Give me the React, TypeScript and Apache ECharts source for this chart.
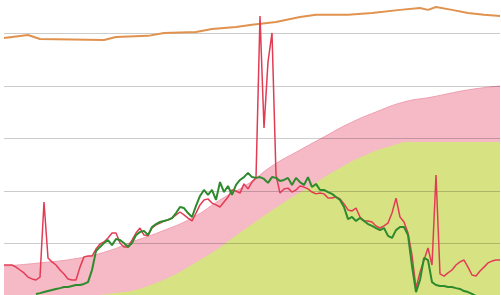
import React, { useEffect, useRef } from "react";
import * as echarts from "echarts";

// sample index t = 0..124
const redLine: number[] = [
  11.8, 11.8, 11.8, 11.0, 9.9, 8.8, 7.2, 6.5, 6.1, 7.2,
  35.8, 14.5, 13.0, 11.8, 9.9, 8.4, 6.5, 6.1, 6.1, 11.0,
  14.9, 15.2, 15.2, 17.9, 19.8, 20.6, 22.1, 24.0, 24.0, 20.2,
  18.7, 18.7, 21.3, 24.0, 25.9, 23.2, 22.9, 25.9, 27.1, 27.8,
  28.6, 29.0, 29.7, 30.9, 32.0, 30.9, 29.7, 28.6, 31.6, 34.7,
  36.6, 37.0, 35.4, 34.7, 33.9, 35.8, 37.7, 40.4, 40.0, 39.2,
  42.7, 40.8, 43.4, 45.0, 106.7, 64.0, 89.2, 100.2, 46.1, 39.2,
  40.8, 41.1, 39.6, 40.4, 41.9, 41.5, 40.8, 39.6, 38.9, 39.2,
  38.9, 37.3, 37.3, 37.7, 37.0, 35.1, 32.8, 32.4, 33.5, 30.1,
  28.6, 28.6, 28.2, 26.7, 25.9, 26.7, 27.8, 31.6, 37.3, 30.1,
  28.2, 24.0, 15.6, 3.0, 9.1, 13.7, 18.3, 11.8, 46.1, 8.4,
  7.6, 8.8, 9.9, 11.8, 13.0, 13.7, 11.0, 8.0, 7.6, 9.5,
  11.0, 12.6, 13.3, 13.7, 13.7,
];

const greenLine: (number | null)[] = [
  null, null, null, null, null, null, null, null, 0.8, 1.1,
  1.5, 1.9, 2.3, 2.7, 3.0, 3.4, 3.4, 3.8, 4.2, 4.2,
  4.6, 5.3, 9.9, 17.1, 18.7, 20.2, 21.3, 19.4, 21.7, 21.3,
  20.2, 18.7, 20.2, 23.2, 24.4, 24.8, 23.2, 26.3, 27.4, 28.2,
  28.6, 29.0, 29.7, 31.6, 33.9, 33.5, 31.6, 30.1, 34.3, 38.1,
  40.4, 38.5, 40.4, 36.6, 43.4, 39.6, 41.9, 38.5, 42.3, 44.2,
  45.3, 46.9, 45.3, 45.0, 45.3, 44.6, 43.1, 45.3, 45.0, 43.8,
  44.2, 45.0, 42.3, 45.0, 43.4, 42.3, 45.3, 41.5, 42.7, 40.4,
  40.4, 39.6, 38.9, 37.7, 36.6, 33.9, 29.3, 30.1, 28.6, 29.7,
  28.6, 27.4, 26.7, 25.9, 25.1, 25.9, 22.9, 22.1, 25.1, 26.3,
  26.3, 23.2, 11.4, 1.5, 6.1, 14.5, 13.7, 5.3, 4.2, 3.8,
  3.8, 3.4, 3.4, 3.0, 2.7, 1.9, 1.5, 0.8, 0, null,
  null, null, null, null, null,
];

// [sample index, value]
const orangeLine: [number, number][] = [
  [0, 98.3], [6, 99.4], [9, 97.9], [25, 97.5], [28, 98.7], [36, 99.1],
  [40, 100.2], [48, 100.6], [52, 101.7], [58, 102.5], [62, 103.3],
  [68, 104.4], [74, 106.3], [78, 107.1], [86, 107.1], [92, 107.8],
  [99, 109.0], [104, 109.7], [106, 109.0], [108, 110.1], [112, 109.0],
  [116, 107.8], [120, 107.1], [124, 106.7],
];

const pinkArea: [number, number][] = [
  [0, 11.4], [9, 12.6], [19, 14.5], [26, 17.1], [32, 20.6], [39, 24.4],
  [47, 29.7], [54, 36.6], [61, 42.7], [67, 49.5], [74, 55.6], [80, 60.6],
  [86, 65.5], [93, 70.1], [100, 73.9], [107, 75.8], [116, 78.5], [124, 80.0],
];

const limeArea: [number, number][] = [
  [19, 0], [26, 0.8], [36, 3.8], [49, 13.7], [61, 26.3], [69, 34.7],
  [77, 42.3], [84, 48.8], [91, 54.1], [97, 57.2], [101, 58.7], [124, 58.7],
];

const yTicks = { min: 0, max: 120, interval: 20 };

export default function App() {
  const ref = useRef<HTMLDivElement>(null);
  useEffect(() => {
    if (!ref.current) return;
    const chart = echarts.init(ref.current, undefined, { renderer: "svg" });
    const idx = (arr: (number | null)[]) => arr.map((v, i) => [i, v]);
    chart.setOption({
      animation: false,
      backgroundColor: "#ffffff",
      grid: { left: 4, right: 1, top: 21, bottom: 64 },
      xAxis: {
        type: "value",
        min: 0,
        max: 124,
        show: false,
        splitLine: { show: false },
      },
      yAxis: {
        type: "value",
        min: yTicks.min,
        max: yTicks.max,
        interval: yTicks.interval,
        z: 3,
        axisLine: { show: false },
        axisTick: { show: false },
        axisLabel: { show: false },
        splitLine: { show: true, lineStyle: { color: "rgba(0,0,0,0.2)", width: 1 } },
      },
      series: [
        {
          type: "line",
          data: pinkArea,
          smooth: true,
          symbol: "none",
          z: 1,
          lineStyle: { color: "#ef9fb1", width: 1 },
          areaStyle: { color: "#f6b9c6", opacity: 1 },
        },
        {
          type: "line",
          data: limeArea,
          smooth: true,
          symbol: "none",
          z: 2,
          lineStyle: { width: 0, color: "#d7e382" },
          areaStyle: { color: "#d7e382", opacity: 1 },
        },
        {
          type: "line",
          data: orangeLine,
          symbol: "none",
          z: 5,
          lineStyle: { color: "#e0924e", width: 2 },
        },
        {
          type: "line",
          data: idx(redLine),
          symbol: "none",
          z: 5,
          lineStyle: { color: "#e23c55", width: 1.5 },
        },
        {
          type: "line",
          data: idx(greenLine),
          symbol: "none",
          z: 6,
          lineStyle: { color: "#2d8a2d", width: 2 },
        },
      ],
    });
    return () => chart.dispose();
  }, []);
  return (
    <div
      style={{
        position: "fixed",
        left: 0,
        top: 0,
        width: 501,
        height: 295,
        overflow: "hidden",
        background: "#fff",
      }}
    >
      <div
        ref={ref}
        style={{ position: "absolute", left: 0, top: -40, width: 501, height: 400 }}
      />
    </div>
  );
}
